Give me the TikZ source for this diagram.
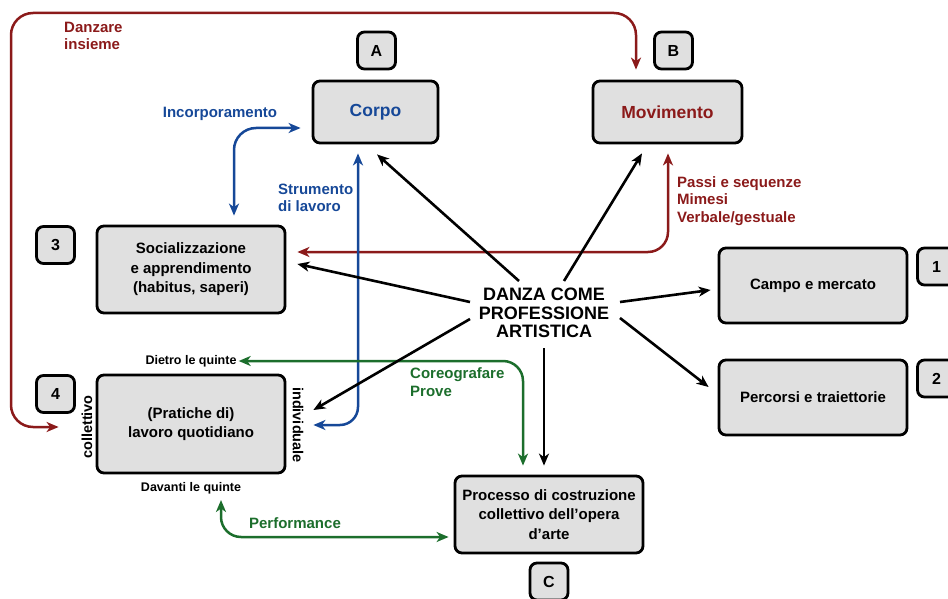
\documentclass[tikz,border=0pt]{standalone}
\usepackage{fontspec}
\setmainfont{Liberation Sans}
\usetikzlibrary{arrows.meta}

\definecolor{boxgray}{RGB}{224,224,224}
\definecolor{darkred}{RGB}{139,26,26}
\definecolor{darkblue}{RGB}{22,72,152}
\definecolor{darkgreen}{RGB}{28,110,44}

\tikzset{
  box/.style={draw, line width=2.8pt, rounded corners=7pt, fill=boxgray,
    align=center, inner sep=0pt, font=\bfseries\fontsize{15}{19.5}\selectfont},
  tagbox/.style={box, minimum width=38pt, minimum height=37pt,
    font=\bfseries\fontsize{16}{19}\selectfont},
  lbl/.style={inner sep=2pt, font=\bfseries\fontsize{15}{17.5}\selectfont},
  small/.style={inner sep=2pt, font=\bfseries\fontsize{12.5}{15}\selectfont},
  head/.tip={Stealth[length=12pt,width=10pt,inset=3.5pt]},
  tip/.style={-head},
  biarrow/.style={head-head},
  blackarrow/.style={tip, line width=2.6pt, black},
  flow/.style={biarrow, line width=2.5pt},
}

\begin{document}
\begin{tikzpicture}[x=1pt, y=-1pt]
\useasboundingbox (0,0) rectangle (948,599);
\clip (0,0) rectangle (948,599);

% main boxes
\node[box, minimum width=125pt, minimum height=62pt, text=darkblue,
  font=\bfseries\fontsize{17.5}{20}\selectfont] (corpo) at (375.5,112) {Corpo};
\node[box, minimum width=149pt, minimum height=62pt, text=darkred,
  font=\bfseries\fontsize{17.5}{20}\selectfont] (mov) at (667.5,112) {Movimento};
\node[box, minimum width=188pt, minimum height=87pt] (soc) at (191,269.5)
  {Socializzazione\\e apprendimento\\(habitus, saperi)};
\node[box, minimum width=188pt, minimum height=98pt] (prat) at (191,424)
  {(Pratiche di)\\lavoro quotidiano};
\node[box, minimum width=188pt, minimum height=75pt] (camp) at (813,285.5) {Campo e mercato};
\node[box, minimum width=188pt, minimum height=75pt] (perc) at (813,397.5) {Percorsi e traiettorie};
\node[box, minimum width=188pt, minimum height=77pt] (proc) at (549,514.5)
  {Processo di costruzione\\collettivo dell’opera\\d’arte};

% letter and number tags
\node[tagbox] (tagA) at (376.5,50.5) {A};
\node[tagbox] (tagB) at (673.5,50.5) {B};
\node[tagbox] (tagC) at (549,581.5) {C};
\node[tagbox] (tag1) at (936.5,266.5) {1};
\node[tagbox] (tag2) at (936.5,378.5) {2};
\node[tagbox] (tag3) at (55.5,245) {3};
\node[tagbox] (tag4) at (55.5,394) {4};

% central concept
\node[align=center, inner sep=0pt, font=\bfseries\fontsize{18}{18.5}\selectfont] (danza) at (544,313)
  {DANZA COME\\PROFESSIONE\\ARTISTICA};

% labels
\node[lbl, text=darkred, align=left, anchor=west] (danzare) at (62,36) {Danzare\\insieme};
\node[lbl, text=darkblue] (incorp) at (220,114) {Incorporamento};
\node[lbl, text=darkblue, align=left, anchor=west] (strum) at (276,198) {Strumento\\di lavoro};
\node[lbl, text=darkred, align=left, anchor=west] (passi) at (675,201)
  {Passi e sequenze\\Mimesi\\Verbale/gestuale};
\node[lbl, text=darkgreen, align=left, anchor=west] (coreo) at (408,382) {Coreografare\\Prove};
\node[lbl, text=darkgreen] (perf) at (295,523) {Performance};
\node[small] (dietro) at (191,361) {Dietro le quinte};
\node[small] (davanti) at (191,488) {Davanti le quinte};
\node[lbl, rotate=90, font=\bfseries\fontsize{14.5}{17}\selectfont] (coll) at (87,427) {collettivo};
\node[lbl, rotate=-90, font=\bfseries\fontsize{14.5}{17}\selectfont] (indiv) at (298,425) {individuale};

% red connectors
\coordinate (ring) at (11,13);
\draw[flow, darkred, rounded corners=22pt]
  ([xshift=-37pt,yshift=-3pt]prat.west) -| (ring) -| ([xshift=-31.5pt,yshift=10pt]mov.north);
\draw[flow, darkred, rounded corners=20pt]
  ([xshift=0.5pt,yshift=-9pt]mov.south) |- ([xshift=11pt,yshift=17.5pt]soc.east);

% blue connectors
\draw[flow, darkblue, rounded corners=22pt]
  ([xshift=43pt,yshift=9pt]soc.north) |- ([xshift=-11pt,yshift=-16pt]corpo.west);
\draw[flow, darkblue, rounded corners=18pt]
  ([xshift=-17.5pt,yshift=-9pt]corpo.south) |- ([xshift=27pt,yshift=-1pt]prat.east);

% green connectors
\draw[flow, darkgreen, rounded corners=20pt]
  (dietro.east) -| ([xshift=-26pt,yshift=9pt]proc.north);
\draw[flow, darkgreen, rounded corners=20pt]
  ([xshift=30pt,yshift=-4pt]davanti.south) |- ([xshift=-5pt,yshift=-22.5pt]proc.west);

% black arrows from the central concept
\draw[blackarrow] ([shift={(-25pt,32pt)}]danza.center) -- ([xshift=1.5pt,yshift=-10pt]corpo.south);
\draw[blackarrow] ([shift={(20pt,32pt)}]danza.center) -- ([xshift=-25.5pt,yshift=-9pt]mov.south);
\draw[blackarrow] ([shift={(-74pt,11pt)}]danza.center) -- ([xshift=11pt,yshift=5.5pt]soc.east);
\draw[blackarrow] ([shift={(-74pt,-6pt)}]danza.center) -- ([xshift=27pt,yshift=14pt]prat.east);
\draw[blackarrow] ([shift={(76pt,11pt)}]danza.center) -- ([xshift=-7pt,yshift=-4.5pt]camp.west);
\draw[blackarrow] ([shift={(76pt,-5pt)}]danza.center) -- ([xshift=-9pt,yshift=10.5pt]perc.west);
\draw[blackarrow] ([shift={(0pt,-35pt)}]danza.center) -- ([xshift=-5pt,yshift=9pt]proc.north);
\end{tikzpicture}
\end{document}
